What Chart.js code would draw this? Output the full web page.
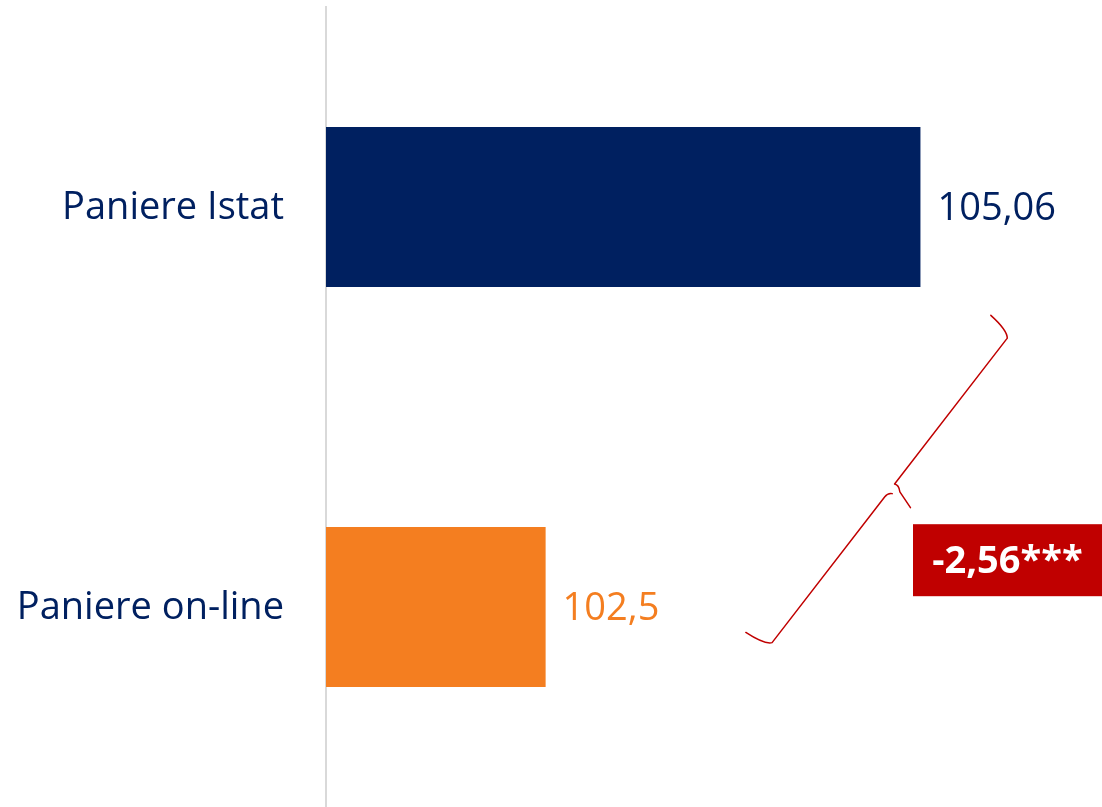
<!DOCTYPE html>
<html>
<head>
<meta charset="utf-8">
<script src="https://cdn.jsdelivr.net/npm/chart.js@4"></script>
<style>
  html, body { margin: 0; padding: 0; background: #ffffff; }
  #wrap { width: 1102px; height: 807px; }
</style>
</head>
<body>
<div id="wrap"><canvas id="c" width="1102" height="807"></canvas></div>
<script>
// ---- data ----
const categories = ['Paniere Istat', 'Paniere on-line'];
const values = [105.06, 102.5];
const valueLabels = ['105,06', '102,5'];
const diffLabel = '-2,56***';
const axisMin = 101;
const axisMax = 106.3;
// brace anchors in data units: [x value, category index position]
const braceTop = [105.67, 0.32];
const braceBottom = [104.03, 1.097];
const diffLabelPos = [105.66, 0.883];

// ---- styles ----
const barColors = ['#002060', '#F47E20'];
const FONT = '"Open Sans", Lato, sans-serif';
const FONT_SIZE = 38;
const LABEL_GAP = 42;

const labelPlugin = {
  id: 'labels',
  afterDatasetsDraw(chart) {
    const ctx = chart.ctx;
    const ys = chart.scales.y;
    const meta = chart.getDatasetMeta(0);
    ctx.save();
    ctx.font = FONT_SIZE + 'px ' + FONT;
    ctx.textBaseline = 'middle';
    ctx.textAlign = 'right';
    ctx.fillStyle = '#002060';
    categories.forEach((c, i) => {
      ctx.fillText(c, chart.chartArea.left - LABEL_GAP, ys.getPixelForValue(i) + 1);
    });
    ctx.textAlign = 'left';
    meta.data.forEach((bar, i) => {
      ctx.fillStyle = barColors[i];
      ctx.fillText(valueLabels[i], bar.x + 17, bar.y + 2);
    });
    ctx.restore();
  }
};

const bracePlugin = {
  id: 'brace',
  afterDatasetsDraw(chart) {
    const xs = chart.scales.x, ys = chart.scales.y;
    const ctx = chart.ctx;
    const ax = xs.getPixelForValue(braceTop[0]), ay = ys.getPixelForValue(braceTop[1]);
    const bx = xs.getPixelForValue(braceBottom[0]), by = ys.getPixelForValue(braceBottom[1]);
    const L = Math.hypot(bx - ax, by - ay);
    const ang = Math.atan2(by - ay, bx - ax);
    const h = L / 2;
    ctx.save();
    ctx.translate(ax, ay);
    ctx.rotate(ang);
    ctx.strokeStyle = '#C00000';
    ctx.lineWidth = 1.5;
    ctx.lineCap = 'round';
    ctx.lineJoin = 'round';
    ctx.beginPath();
    ctx.moveTo(-4, 27);
    ctx.bezierCurveTo(-3, 14, -1, 4, 4, 0);
    ctx.lineTo(h - 8, 0);
    ctx.quadraticCurveTo(h - 10, -4, h - 5, -9);
    ctx.lineTo(h + 1, -27);
    ctx.moveTo(h + 1, -4);
    ctx.quadraticCurveTo(h + 3, 0, h + 8, 0);
    ctx.lineTo(L - 4, 0);
    ctx.bezierCurveTo(L + 1, 4, L + 3, 14, L + 4, 27);
    ctx.stroke();
    ctx.restore();

    const cy = ys.getPixelForValue(diffLabelPos[1]);
    ctx.save();
    ctx.font = 'bold ' + FONT_SIZE + 'px ' + FONT;
    const tw = ctx.measureText(diffLabel).width;
    const bw = Math.max(tw + 38, 189), bh = 72;
    const right = chart.chartArea.right;
    ctx.fillStyle = '#C00000';
    ctx.fillRect(right - bw, cy - bh / 2, bw, bh);
    ctx.fillStyle = '#ffffff';
    ctx.textAlign = 'center';
    ctx.textBaseline = 'middle';
    ctx.fillText(diffLabel, right - bw / 2, cy + 2);
    ctx.restore();
  }
};

new Chart(document.getElementById('c'), {
  type: 'bar',
  data: {
    labels: categories,
    datasets: [{
      data: values,
      backgroundColor: barColors,
      borderWidth: 0,
      barPercentage: 0.4,
      categoryPercentage: 1.0
    }]
  },
  options: {
    indexAxis: 'y',
    responsive: false,
    animation: false,
    events: [],
    layout: { padding: { top: 7, right: 0, bottom: -3, left: 0 } },
    plugins: { legend: { display: false }, tooltip: { enabled: false } },
    scales: {
      x: {
        display: false,
        min: axisMin,
        max: axisMax
      },
      y: {
        grid: { display: false, drawTicks: false },
        border: { display: true, color: '#D9D9D9', width: 2 },
        ticks: { display: false },
        afterFit(scale) { scale.width = 326; }
      }
    }
  },
  plugins: [labelPlugin, bracePlugin]
});
</script>
</body>
</html>
